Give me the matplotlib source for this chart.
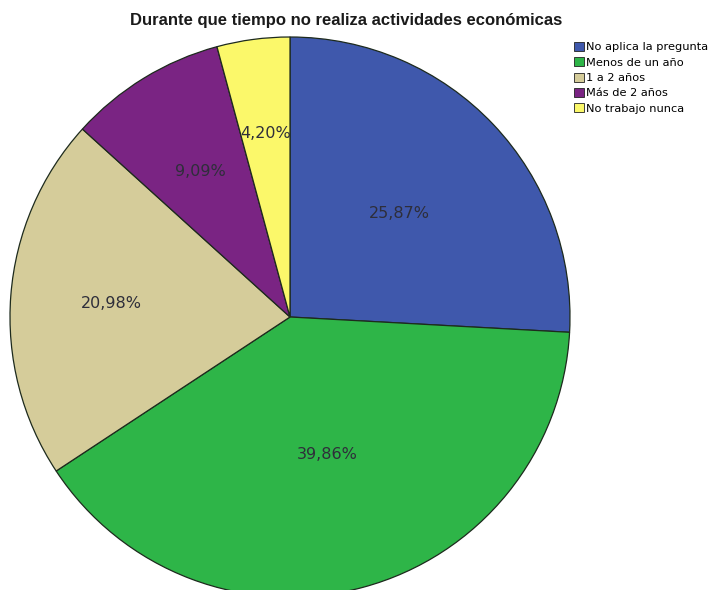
import matplotlib
matplotlib.use('Agg')
import matplotlib.pyplot as plt
import numpy as np

categories = ['No aplica la pregunta', 'Menos de un año', '1 a 2 años',
              'Más de 2 años', 'No trabajo nunca']
percentages = [25.87, 39.86, 20.98, 9.09, 4.20]
colors = ['#3F58AC', '#2EB548', '#D5CC9A', '#7A2483', '#FBF86A']
label_dist = [0.54, 0.51, 0.64, 0.61, 0.66]

W, H = 710, 590
fig = plt.figure(figsize=(W / 100, H / 100), dpi=100)
fig.patch.set_facecolor('white')

# pie centre and radius in pixels
cx, cy, r = 290, 317, 280
ax = fig.add_axes([(cx - r) / W, (H - cy - r) / H, 2 * r / W, 2 * r / H])
ax.axis('off')

wedges, _ = ax.pie(percentages, colors=colors, startangle=90, counterclock=False,
                   radius=1.0, wedgeprops=dict(edgecolor='#1d2a1d', linewidth=0.9))
ax.set_xlim(-1, 1)
ax.set_ylim(-1, 1)

for w, val, d in zip(wedges, percentages, label_dist):
    mid = np.deg2rad((w.theta1 + w.theta2) / 2)
    txt = f'{val:.2f}%'.replace('.', ',')
    ax.text(d * np.cos(mid), d * np.sin(mid), txt, ha='center', va='center',
            fontsize=11.5, color='#2e2e3a', family='DejaVu Sans')

fig.text(346 / W, 1 - 20 / H, 'Durante que tiempo no realiza actividades económicas',
         ha='center', va='center', fontsize=12, fontweight='bold',
         family='Liberation Sans', color='#1a1a1a')

leg = fig.legend(wedges, categories, loc='upper left',
                 bbox_to_anchor=(566 / W, 1 - 34 / H), frameon=False,
                 handlelength=0.85, handleheight=0.85,
                 handletextpad=0.2, labelspacing=0.42, borderpad=0.2,
                 prop={'family': 'DejaVu Sans', 'size': 8.2})
for h in leg.legend_handles:
    h.set_edgecolor('#222222')
    h.set_linewidth(0.6)

fig.savefig('out.png', dpi=100)
